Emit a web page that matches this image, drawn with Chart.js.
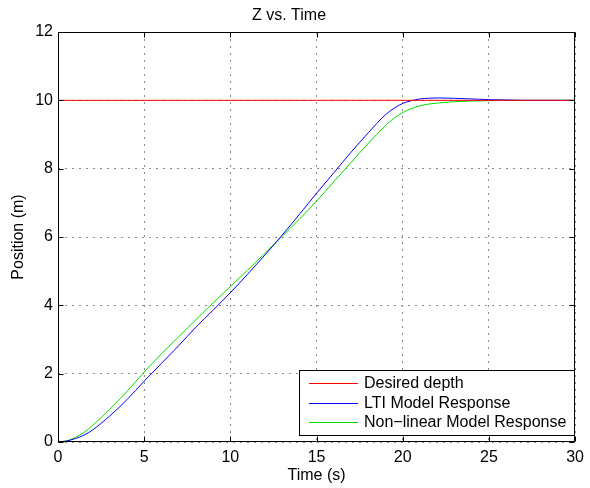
<!DOCTYPE html>
<html>
<head>
<meta charset="utf-8">
<script src="https://cdn.jsdelivr.net/npm/chart.js@4/dist/chart.umd.min.js"></script>
<style>
  html, body { margin: 0; padding: 0; background: #fff; }
  #wrap { width: 590px; height: 488px; position: relative; }
</style>
</head>
<body>
<div id="wrap"><canvas id="c"></canvas></div>
<script>
// values
const times = [0, 0.5, 1, 1.5, 2, 3, 4, 5, 6, 7, 8, 9, 10, 11, 12, 13, 14, 15, 16, 17, 18, 19,
    19.5, 20, 20.5, 21, 21.5, 22, 23, 24, 25, 26, 27, 28, 29, 30];

const ltiResponse = [0, 0.03, 0.1, 0.2, 0.35, 0.76, 1.24, 1.78, 2.3, 2.82, 3.36, 3.86, 4.37, 4.91,
    5.47, 6.05, 6.66, 7.28, 7.88, 8.48, 9.05, 9.58,
    9.77, 9.91, 9.99, 10.04, 10.06, 10.07, 10.06, 10.04, 10.02, 10.01, 10.0, 10.0, 10.0, 10.0];

const nonlinearResponse = [0, 0.03, 0.13, 0.28, 0.48, 0.96, 1.48, 2.05, 2.58, 3.08, 3.58, 4.07, 4.55, 5.03,
    5.52, 6.02, 6.52, 7.05, 7.62, 8.18, 8.74, 9.26,
    9.48, 9.64, 9.76, 9.84, 9.89, 9.92, 9.96, 9.98, 9.99, 10.0, 10.0, 10.0, 10.0, 10.0];

const desiredTimes = [0, 30];
const desiredDepth = [10, 10];

const seriesLabels = ["Desired depth", "LTI Model Response", "Non\u2212linear Model Response"];
const seriesColors = ["#ff0000", "#0000ff", "#00dd00"];

const xTicks = [0, 5, 10, 15, 20, 25, 30];
const yTicks = [0, 2, 4, 6, 8, 10, 12];

const FONT = "'Liberation Sans', Arial, Helvetica, sans-serif";

function toPoints(xs, ys) {
    return xs.map((x, i) => ({ x: x, y: ys[i] }));
}

// box round the axes, inward ticks and the legend, MATLAB style
const matlabAxes = {
    id: "matlabAxes",
    afterDraw(chart) {
        const ctx = chart.ctx;
        const a = chart.chartArea;
        const xs = chart.scales.x;
        const ys = chart.scales.y;
        const L = Math.round(a.left) + 0.5;
        const R = Math.round(a.right) - 0.5;
        const T = Math.round(a.top) + 0.5;
        const B = Math.round(a.bottom) - 0.5;

        ctx.save();
        ctx.setLineDash([]);
        ctx.strokeStyle = "#000";
        ctx.lineWidth = 1;
        ctx.beginPath();
        ctx.rect(L, T, R - L, B - T);
        xTicks.forEach(v => {
            const px = Math.round(xs.getPixelForValue(v)) + 0.5;
            ctx.moveTo(px, B); ctx.lineTo(px, B - 5);
            ctx.moveTo(px, T); ctx.lineTo(px, T + 5);
        });
        yTicks.forEach(v => {
            const py = Math.round(ys.getPixelForValue(v)) + 0.5;
            ctx.moveTo(L, py); ctx.lineTo(L + 5, py);
            ctx.moveTo(R, py); ctx.lineTo(R - 5, py);
        });
        ctx.stroke();

        // legend
        const w = 275, h = 65;
        const lx = Math.round(a.right) - 1 - w;
        const ly = Math.round(a.bottom) - 7 - h;
        ctx.fillStyle = "#fff";
        ctx.fillRect(lx, ly, w, h);
        ctx.strokeStyle = "#000";
        ctx.strokeRect(lx + 0.5, ly + 0.5, w, h);
        ctx.font = "16px " + FONT;
        ctx.textBaseline = "middle";
        ctx.textAlign = "left";
        seriesLabels.forEach((label, i) => {
            const cy = Math.round(ly + 13 + i * 19.7);
            ctx.fillStyle = seriesColors[i];
            ctx.fillRect(lx + 10, cy, 49, 1);
            ctx.fillStyle = "#000";
            ctx.fillText(label, lx + 65, cy + 1);
        });
        ctx.restore();
    }
};

const gridStyle = {
    color: "#8a8a8a",
    lineWidth: 1,
    drawTicks: false
};

// in Chart.js v4 the grid line dash comes from the border options
const borderStyle = {
    display: false,
    dash: [2, 5]
};

new Chart(document.getElementById("c"), {
    type: "line",
    data: {
        datasets: [
            {
                label: seriesLabels[0],
                data: toPoints(desiredTimes, desiredDepth),
                borderColor: seriesColors[0],
                borderWidth: 1,
                pointRadius: 0
            },
            {
                label: seriesLabels[1],
                data: toPoints(times, ltiResponse),
                borderColor: seriesColors[1],
                borderWidth: 1,
                pointRadius: 0,
                cubicInterpolationMode: "monotone"
            },
            {
                label: seriesLabels[2],
                data: toPoints(times, nonlinearResponse),
                borderColor: seriesColors[2],
                borderWidth: 1,
                pointRadius: 0,
                cubicInterpolationMode: "monotone"
            }
        ]
    },
    options: {
        responsive: true,
        maintainAspectRatio: false,
        animation: false,
        layout: { padding: { left: 0, right: 12, top: 0, bottom: 0 } },
        plugins: {
            legend: { display: false },
            tooltip: { enabled: false },
            title: {
                display: true,
                text: "Z vs. Time",
                color: "#000",
                font: { family: FONT, size: 16, weight: "normal" },
                padding: { top: 6, bottom: 6.8 }
            }
        },
        scales: {
            x: {
                type: "linear",
                min: 0,
                max: 30,
                afterFit: s => { s.height = 46; },
                afterBuildTicks: s => { s.ticks = xTicks.map(v => ({ value: v })); },
                grid: gridStyle,
                border: borderStyle,
                ticks: {
                    color: "#000",
                    padding: 6,
                    maxRotation: 0,
                    font: { family: FONT, size: 16 }
                },
                title: {
                    display: true,
                    text: "Time (s)",
                    color: "#000",
                    font: { family: FONT, size: 16 },
                    padding: { top: 0, bottom: 2.4 }
                }
            },
            y: {
                type: "linear",
                min: 0,
                max: 12,
                afterFit: s => { s.width = 58; },
                afterBuildTicks: s => { s.ticks = yTicks.map(v => ({ value: v })); },
                grid: gridStyle,
                border: borderStyle,
                ticks: {
                    color: "#000",
                    padding: 5,
                    font: { family: FONT, size: 16 }
                },
                title: {
                    display: true,
                    text: "Position (m)",
                    color: "#000",
                    font: { family: FONT, size: 16 },
                    padding: { top: 9.4, bottom: 0 }
                }
            }
        }
    },
    plugins: [matlabAxes]
});
</script>
</body>
</html>
